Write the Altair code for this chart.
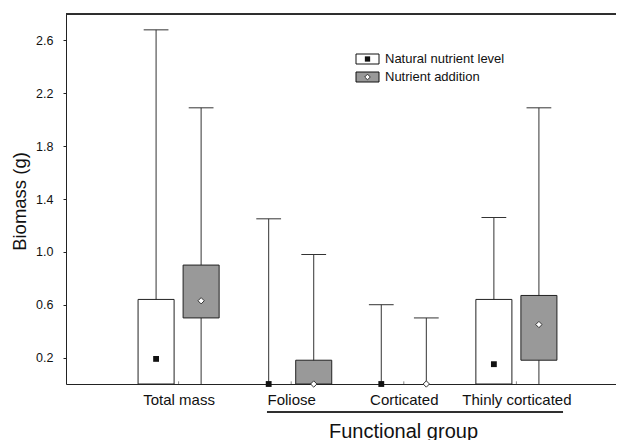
import json
import altair as alt
import pandas as pd

# ---------------- data ----------------
groups = ["Total mass", "Foliose", "Corticated", "Thinly corticated"]
series = ["Natural nutrient level", "Nutrient addition"]

natural_mean = [0.19, 0.0, 0.0, 0.15]
natural_q1 = [0.0, 0.0, 0.0, 0.0]
natural_q3 = [0.64, 0.0, 0.0, 0.64]
natural_min = [0.0, 0.0, 0.0, 0.0]
natural_max = [2.68, 1.25, 0.60, 1.26]

addition_mean = [0.63, 0.0, 0.0, 0.45]
addition_q1 = [0.50, 0.0, 0.0, 0.18]
addition_q3 = [0.90, 0.18, 0.0, 0.67]
addition_min = [0.0, 0.0, 0.0, 0.0]
addition_max = [2.09, 0.98, 0.50, 2.09]

y_ticks = [0.2, 0.6, 1.0, 1.4, 1.8, 2.2, 2.6]

# ---------------- styling constants ----------------
FONT = "Liberation Sans"
W, H = 550, 370
X_MAX = W / 112.6      # visible x extent (group slots are 1..4)
Y_MAX = 2.8
SERIES_OFFSET = {series[0]: -0.2, series[1]: 0.2}
BOX_HALF = 0.16
CAP_HALF = 0.11
FILLS = ["#ffffff", "#999999"]
INK = "#222222"

rows = []
for s, mean, q1, q3, mn, mx in [
    (series[0], natural_mean, natural_q1, natural_q3, natural_min, natural_max),
    (series[1], addition_mean, addition_q1, addition_q3, addition_min, addition_max),
]:
    for i, g in enumerate(groups):
        rows.append(dict(group=g, series=s, slot=i + 1, off=SERIES_OFFSET[s],
                         mean=mean[i], q1=q1[i], q3=q3[i], lo=mn[i], hi=mx[i]))
df = pd.DataFrame(rows)

xscale = alt.Scale(domain=[0, X_MAX], nice=False, zero=False)
yscale = alt.Scale(domain=[0, Y_MAX], nice=False, zero=True)
fill_scale = alt.Scale(domain=series, range=FILLS)

label_expr = "[''," + ",".join(json.dumps(g) for g in groups) + "][datum.value]"

x_axis = alt.Axis(values=[1, 2, 3, 4], labelExpr=label_expr, tickSize=0, grid=False,
                  domainColor=INK, domainWidth=1, labelFont=FONT, labelFontSize=15,
                  labelColor="#111111", labelPadding=8, labelOverlap=False, labelBound=False,
                  title="Functional group", titleFont=FONT, titleFontSize=20,
                  titleFontWeight="normal", titleColor="#111111", titleX=337, titleY=53,
                  titleAlign="center", titleBaseline="alphabetic", titleAnchor="start")
y_axis = alt.Axis(values=y_ticks, format=".1f", tickSize=3, tickColor=INK, grid=False,
                  domainColor=INK, domainWidth=1, labelFont=FONT, labelFontSize=12.5,
                  labelColor="#111111", labelPadding=10,
                  title="Biomass (g)", titleFont=FONT, titleFontSize=18.5,
                  titleFontWeight="normal", titleColor="#111111", titleX=-47, titleY=187,
                  titleAngle=270, titleAlign="center", titleBaseline="middle",
                  titleAnchor="start")


def X(field=None, **kw):
    if field is None:
        return alt.X(scale=xscale, axis=x_axis, **kw)
    return alt.X(field, scale=xscale, axis=x_axis, **kw)


def Y(field=None, **kw):
    if field is None:
        return alt.Y(scale=yscale, axis=y_axis, **kw)
    return alt.Y(field, scale=yscale, axis=y_axis, **kw)


base = alt.Chart(df).transform_calculate(
    pos="datum.slot + datum.off",
    box_l=f"datum.slot + datum.off - {BOX_HALF}",
    box_r=f"datum.slot + datum.off + {BOX_HALF}",
    cap_l=f"datum.slot + datum.off - {CAP_HALF}",
    cap_r=f"datum.slot + datum.off + {CAP_HALF}",
)

whiskers = base.mark_rule(color="#333333", strokeWidth=1).encode(
    x=X("pos:Q"), y=Y("lo:Q"), y2="hi:Q",
)
caps = base.mark_rule(color="#333333", strokeWidth=1).encode(
    x=X("cap_l:Q"), x2="cap_r:Q", y=Y("hi:Q"),
)
boxes = base.transform_filter("datum.q3 > datum.q1").mark_rect(
    stroke=INK, strokeWidth=1
).encode(
    x=X("box_l:Q"), x2="box_r:Q", y=Y("q1:Q"), y2="q3:Q",
    fill=alt.Fill("series:N", scale=fill_scale, legend=None),
)
mean_nat = base.transform_filter(alt.datum.series == series[0]).mark_square(
    size=34, color="#111111", opacity=1
).encode(x=X("pos:Q"), y=Y("mean:Q"))
mean_add = base.transform_filter(alt.datum.series == series[1]).mark_point(
    shape="diamond", filled=True, fill="#ffffff", stroke="#333333", strokeWidth=1,
    size=40, opacity=1
).encode(x=X("pos:Q"), y=Y("mean:Q"))

# small inward ticks at the group slots
tick_df = pd.DataFrame({"slot": [1, 2, 3, 4]})
inner_ticks = alt.Chart(tick_df).mark_rule(color="#888888", strokeWidth=1).encode(
    x=X("slot:Q"), y=Y(datum=0), y2=alt.datum(0.02),
)

# top frame line
top_line = alt.Chart(tick_df).mark_rule(color=INK, strokeWidth=1).encode(
    x=X(datum=0), x2=alt.datum(X_MAX), y=Y(datum=Y_MAX),
)

# bracket line under the functional groups
bracket = alt.Chart(tick_df).mark_rule(color=INK, strokeWidth=1).encode(
    x=X(datum=1.785), x2=alt.datum(4.414), y=alt.value(398),
)

# manual legend
leg_layers = []
for i, s in enumerate(series):
    yc = 45 + 18 * i
    ldf = pd.DataFrame({"series": [s]})
    leg_layers.append(alt.Chart(ldf).mark_rect(stroke="#111111", strokeWidth=1).encode(
        x=alt.value(290), x2=alt.value(313), y=alt.value(yc - 5), y2=alt.value(yc + 5),
        fill=alt.Fill("series:N", scale=fill_scale, legend=None)))
    if i == 0:
        leg_layers.append(alt.Chart(ldf).mark_square(size=28, color="#111111", opacity=1).encode(
            x=alt.value(301.5), y=alt.value(yc)))
    else:
        leg_layers.append(alt.Chart(ldf).mark_point(
            shape="diamond", filled=True, fill="#ffffff", stroke="#333333",
            strokeWidth=1, size=32, opacity=1).encode(x=alt.value(301.5), y=alt.value(yc)))
    leg_layers.append(alt.Chart(ldf).mark_text(
        align="left", baseline="middle", font=FONT, fontSize=13, color="#111111"
    ).encode(x=alt.value(319), y=alt.value(yc), text="series:N"))

chart = alt.layer(
    whiskers, caps, boxes, mean_nat, mean_add, inner_ticks, top_line, bracket, *leg_layers
).properties(
    width=W, height=H,
    autosize=alt.AutoSizeParams(type="none"),
    padding={"left": 58, "top": 6, "right": 0, "bottom": 56},
).configure_view(stroke=None).configure(background="white")

chart.save("out.html", embed_options={"renderer": "svg", "actions": False})
